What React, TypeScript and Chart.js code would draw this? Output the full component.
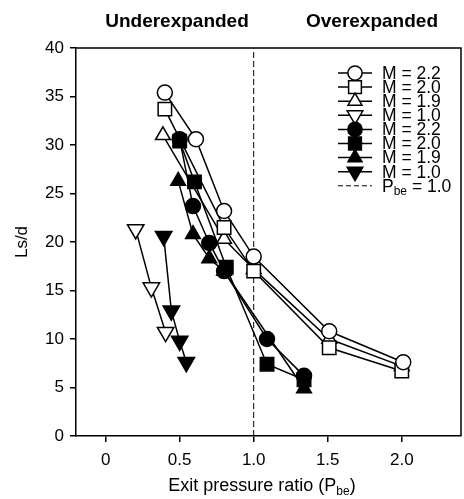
import React, { useEffect, useRef } from 'react';
import { Chart, registerables } from 'chart.js';
import { drawPoint } from 'chart.js/helpers';

Chart.register(...registerables);

// ---- data (x = exit pressure ratio, y = Ls/d) ----
const openM22: [number, number][] = [[0.40, 35.4], [0.61, 30.6], [0.80, 23.2], [1.0, 18.5], [1.51, 10.8], [2.01, 7.6]];
const openM20: [number, number][] = [[0.40, 33.7], [0.80, 21.5], [1.0, 17.0], [1.51, 9.1], [2.0, 6.7]];
const openM19: [number, number][] = [[0.387, 31.0], [0.80, 20.3], [1.0, 17.2], [1.51, 10.0], [2.0, 7.2]];
const openM10: [number, number][] = [[0.203, 21.3], [0.309, 15.3], [0.405, 10.7]];
const filledM22: [number, number][] = [[0.50, 30.6], [0.59, 23.7], [0.70, 19.9], [0.80, 17.0], [1.09, 10.0], [1.34, 6.2]];
const filledM20: [number, number][] = [[0.50, 30.4], [0.60, 26.2], [0.815, 17.4], [1.09, 7.4], [1.34, 5.8]];
const filledM19: [number, number][] = [[0.49, 26.3], [0.59, 20.8], [0.70, 18.3], [0.80, 17.0], [1.34, 4.9]];
const filledM10: [number, number][] = [[0.392, 20.6], [0.444, 12.9], [0.50, 9.8], [0.545, 7.6]];
const pbeLine: [number, number][] = [[1.0, 0], [1.0, 40]];

const seriesLabels = ['M = 2.2', 'M = 2.0', 'M = 1.9', 'M = 1.0', 'M = 2.2', 'M = 2.0', 'M = 1.9', 'M = 1.0'];
const xTickValues = [0, 0.5, 1.0, 1.5, 2.0];
const xTickLabels = ['0', '0.5', '1.0', '1.5', '2.0'];
const headerLeft = 'Underexpanded';
const headerRight = 'Overexpanded';
const yTitle = 'Ls/d';

const FONT = '"Liberation Sans", Arial, Helvetica, sans-serif';

type Style = { pointStyle: string; radius: number; rotation: number; filled: boolean };
const styles: Style[] = [
  { pointStyle: 'circle', radius: 7.5, rotation: 0, filled: false },
  { pointStyle: 'rect', radius: 9.5, rotation: 0, filled: false },
  { pointStyle: 'triangle', radius: 8.5, rotation: 0, filled: false },
  { pointStyle: 'triangle', radius: 9.5, rotation: 180, filled: false },
  { pointStyle: 'circle', radius: 7.5, rotation: 0, filled: true },
  { pointStyle: 'rect', radius: 9.5, rotation: 0, filled: true },
  { pointStyle: 'triangle', radius: 8.5, rotation: 0, filled: true },
  { pointStyle: 'triangle', radius: 9.5, rotation: 180, filled: true },
];
const seriesData = [openM22, openM20, openM19, openM10, filledM22, filledM20, filledM19, filledM10];

function drawParts(ctx: CanvasRenderingContext2D, parts: [string, boolean][], x: number, y: number, size: number, align: 'left' | 'center') {
  const subSize = Math.round(size * 0.68);
  let total = 0;
  const widths = parts.map(([t, sub]) => {
    ctx.font = `${sub ? subSize : size}px ${FONT}`;
    const w = ctx.measureText(t).width;
    total += w;
    return w;
  });
  let cx = align === 'center' ? x - total / 2 : x;
  ctx.textAlign = 'left';
  ctx.textBaseline = 'middle';
  parts.forEach(([t, sub], i) => {
    ctx.font = `${sub ? subSize : size}px ${FONT}`;
    ctx.fillText(t, cx, sub ? y + size * 0.3 : y);
    cx += widths[i];
  });
}

const overlay = {
  id: 'overlay',
  afterDraw(chart: any) {
    const ctx: CanvasRenderingContext2D = chart.ctx;
    const { left, right, top, bottom } = chart.chartArea;
    ctx.save();
    ctx.strokeStyle = '#000';
    ctx.fillStyle = '#000';
    ctx.lineWidth = 1.5;
    ctx.beginPath();
    ctx.moveTo(left, top);
    ctx.lineTo(right, top);
    ctx.lineTo(right, bottom);
    ctx.stroke();

    // headers
    ctx.font = `bold 19px ${FONT}`;
    ctx.textAlign = 'center';
    ctx.textBaseline = 'middle';
    ctx.fillText(headerLeft, 177, 22);
    ctx.fillText(headerRight, 372, 22);

    // y title
    ctx.save();
    ctx.translate(22, 242);
    ctx.rotate(-Math.PI / 2);
    ctx.font = `17px ${FONT}`;
    ctx.fillText(yTitle, 0, 0);
    ctx.restore();

    // x title
    drawParts(ctx, [['Exit pressure ratio (P', false], ['be', true], [')', false]], 262, 486, 18, 'center');

    // legend
    const x0 = 338, x1 = 372, mx = 355, tx = 382;
    const y0 = 73, dy = 14.1;
    styles.forEach((s, i) => {
      const y = y0 + i * dy;
      ctx.strokeStyle = '#000';
      ctx.lineWidth = 1.5;
      ctx.setLineDash([]);
      ctx.beginPath();
      ctx.moveTo(x0, y);
      ctx.lineTo(x1, y);
      ctx.stroke();
      ctx.fillStyle = s.filled ? '#000' : '#fff';
      ctx.strokeStyle = '#000';
      ctx.lineWidth = 1.5;
      drawPoint(ctx, { pointStyle: s.pointStyle as any, radius: s.radius * 0.95, rotation: s.rotation, borderWidth: 1.5 }, mx, y);
      ctx.fillStyle = '#000';
      ctx.font = `17.5px ${FONT}`;
      ctx.textAlign = 'left';
      ctx.textBaseline = 'middle';
      ctx.fillText(seriesLabels[i], tx, y + 1);
    });
    const yl = y0 + 8 * dy;
    ctx.lineWidth = 1;
    ctx.setLineDash([5, 3]);
    ctx.beginPath();
    ctx.moveTo(x0, yl);
    ctx.lineTo(x1, yl);
    ctx.stroke();
    ctx.setLineDash([]);
    ctx.fillStyle = '#000';
    drawParts(ctx, [['P', false], ['be', true], [' = 1.0', false]], tx, yl + 1, 17.5, 'left');
    ctx.restore();
  },
};

export default function App() {
  const ref = useRef<HTMLCanvasElement | null>(null);
  useEffect(() => {
    if (!ref.current) return;
    const datasets: any[] = seriesData.map((d, i) => {
      const s = styles[i];
      return {
        label: seriesLabels[i],
        data: d.map(([x, y]) => ({ x, y })),
        showLine: true,
        borderColor: '#000',
        borderWidth: 1.5,
        backgroundColor: s.filled ? '#000' : '#fff',
        pointStyle: s.pointStyle,
        pointRadius: s.radius,
        pointRotation: s.rotation,
        pointBorderColor: '#000',
        pointBackgroundColor: s.filled ? '#000' : '#fff',
        pointBorderWidth: 1.5,
        fill: false,
      };
    });
    datasets.push({
      label: 'Pbe = 1.0',
      data: pbeLine.map(([x, y]) => ({ x, y })),
      showLine: true,
      borderColor: '#000',
      borderWidth: 1,
      borderDash: [6, 3],
      pointRadius: 0,
      fill: false,
    });
    const chart = new Chart(ref.current, {
      type: 'scatter',
      data: { datasets },
      options: {
        responsive: false,
        animation: false,
        layout: { padding: { top: 48, right: 3, left: 0, bottom: 0 } },
        plugins: { legend: { display: false }, tooltip: { enabled: false } },
        scales: {
          x: {
            type: 'linear',
            min: -0.2,
            max: 2.4,
            afterBuildTicks: (s: any) => {
              s.ticks = xTickValues.map((v) => ({ value: v }));
            },
            afterFit: (s: any) => {
              s.height = 63;
            },
            ticks: {
              autoSkip: false,
              maxRotation: 0,
              color: '#000',
              padding: 8,
              font: { family: FONT, size: 17 },
              callback: (v: any) => {
                const i = xTickValues.indexOf(Number(v));
                return i >= 0 ? xTickLabels[i] : '';
              },
            },
            grid: { drawOnChartArea: false, tickLength: 6, color: '#000', lineWidth: 1.5 },
            border: { color: '#000', width: 1.5 },
          },
          y: {
            min: 0,
            max: 40,
            afterFit: (s: any) => {
              s.width = 76;
            },
            ticks: {
              stepSize: 5,
              color: '#000',
              padding: 6,
              font: { family: FONT, size: 17 },
            },
            grid: { drawOnChartArea: false, tickLength: 6, color: '#000', lineWidth: 1.5 },
            border: { color: '#000', width: 1.5 },
          },
        },
      },
      plugins: [overlay],
    } as any);
    return () => chart.destroy();
  }, []);
  return (
    <div style={{ position: 'absolute', left: 0, top: 0, width: 464, height: 499, overflow: 'hidden', background: '#fff' }}>
      <canvas ref={ref} width={472} height={499} style={{ display: 'block' }} />
    </div>
  );
}
